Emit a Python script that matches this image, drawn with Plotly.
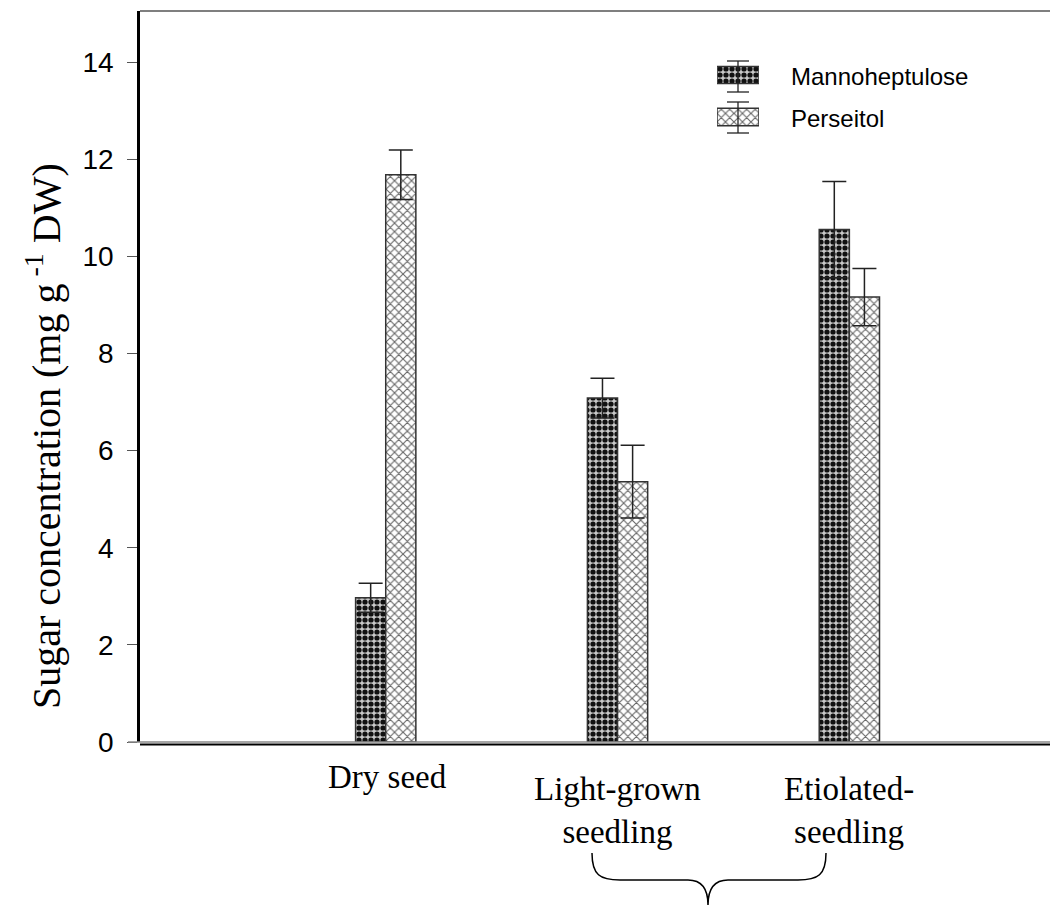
import plotly.graph_objects as go

# ---- data ----
categories = ["Dry seed", "Light-grown seedling", "Etiolated seedling"]
category_labels = ["Dry seed", "Light-grown<br>seedling", "Etiolated-<br>seedling"]
series_names = ["Mannoheptulose", "Perseitol"]
manno_values = [2.97, 7.08, 10.55]
manno_errors = [0.30, 0.41, 0.99]
perse_values = [11.68, 5.36, 9.16]
perse_errors = [0.51, 0.75, 0.59]
y_ticks = [0, 2, 4, 6, 8, 10, 12, 14]

# ---- layout geometry (screen pixels; page body has an 8px margin) ----
OFF = 8
W, H = 1058 - OFF, 910 - OFF
L, R, T, B = 140 - OFF, 1058 - OFF, 11 - OFF, 742 - OFF


def px_x(p):
    return (p - OFF - L) / (R - L)


def px_y(p):
    return (B - (p - OFF)) / (B - T)


manno_pattern = dict(shape=".", bgcolor="#c8c8c8", fgcolor="#111111",
                     size=6, solidity=0.6, fillmode="replace")
perse_pattern = dict(shape="x", bgcolor="#ffffff", fgcolor="#666666",
                     size=6, solidity=0.33, fillmode="replace")
bar_line = dict(color="#333333", width=1.5)

fig = go.Figure()
fig.add_trace(go.Bar(
    x=categories, y=manno_values, name=series_names[0],
    marker=dict(color="#c8c8c8", pattern=manno_pattern, line=bar_line),
    error_y=dict(type="data", array=manno_errors, visible=True,
                 color="#222222", thickness=1.5, width=12),
    showlegend=False,
))
fig.add_trace(go.Bar(
    x=categories, y=perse_values, name=series_names[1],
    marker=dict(color="#ffffff", pattern=perse_pattern, line=bar_line),
    error_y=dict(type="data", array=perse_errors, visible=True,
                 color="#222222", thickness=1.5, width=12),
    showlegend=False,
))

# ---- custom legend (overlay axes) ----
fig.add_trace(go.Bar(
    y=[series_names[0]], x=[1], orientation="h", xaxis="x2", yaxis="y2",
    marker=dict(color="#c8c8c8", pattern=manno_pattern, line=bar_line),
    width=0.4, showlegend=False, hoverinfo="skip",
))
fig.add_trace(go.Bar(
    y=[series_names[1]], x=[1], orientation="h", xaxis="x2", yaxis="y2",
    marker=dict(color="#ffffff", pattern=perse_pattern, line=bar_line),
    width=0.42, showlegend=False, hoverinfo="skip",
))

shapes = []
# legend error glyphs
for top, bot in [(61, 92), (102, 133)]:
    cx = 738
    shapes.append(dict(type="line", xref="paper", yref="paper",
                       x0=px_x(cx), x1=px_x(cx), y0=px_y(top), y1=px_y(bot),
                       line=dict(color="#222", width=1.3)))
    for yy in (top, bot):
        shapes.append(dict(type="line", xref="paper", yref="paper",
                           x0=px_x(727), x1=px_x(749), y0=px_y(yy), y1=px_y(yy),
                           line=dict(color="#222", width=1.3)))

# frame lines
shapes.append(dict(type="line", xref="paper", yref="paper", x0=0, x1=1, y0=1, y1=1,
                   line=dict(color="#555", width=1.5)))
shapes.append(dict(type="line", xref="paper", yref="paper", x0=px_x(128), x1=1,
                   y0=0, y1=0, line=dict(color="#888", width=1.5)))
shapes.append(dict(type="line", xref="paper", yref="paper", x0=0, x1=1,
                   y0=px_y(744.5), y1=px_y(744.5), line=dict(color="#000", width=2)))

# brace
pts = [(592, 853), (592, 875), (600, 880), (620, 880), (688, 880),
       (702, 880), (708, 890), (708, 905), (708, 890), (714, 880), (728, 880),
       (798, 880), (818, 880), (826, 875), (826, 853)]
P_ = [(px_x(a), px_y(b)) for a, b in pts]


def f(p):
    return f"{p[0]:.5f},{p[1]:.5f}"


path = (f"M {f(P_[0])} C {f(P_[1])} {f(P_[2])} {f(P_[3])} L {f(P_[4])} "
        f"C {f(P_[5])} {f(P_[6])} {f(P_[7])} C {f(P_[8])} {f(P_[9])} {f(P_[10])} "
        f"L {f(P_[11])} C {f(P_[12])} {f(P_[13])} {f(P_[14])}")
shapes.append(dict(type="path", xref="paper", yref="paper", path=path,
                   line=dict(color="#000", width=1.5)))

annotations = []
serif = "Liberation Serif, Times New Roman, serif"
sans = "Liberation Sans, Arial, sans-serif"
# category labels
label_y = [777, 810, 810]
label_dx = [2, 0, 0]
for cat, lab, yy, dx in zip(categories, category_labels, label_y, label_dx):
    annotations.append(dict(x=cat, xref="x", y=px_y(yy), yref="paper", text=lab,
                            showarrow=False, xanchor="center", yanchor="middle",
                            xshift=dx, font=dict(family=serif, size=33, color="#000")))
# legend texts
for name, yy in zip(series_names, [76, 118]):
    annotations.append(dict(x=px_x(789), xref="paper", y=px_y(yy), yref="paper",
                            text=name, showarrow=False, xanchor="left", yanchor="middle",
                            font=dict(family=sans, size=24, color="#000")))
# y-axis title
annotations.append(dict(x=px_x(44), xref="paper", y=px_y(436), yref="paper",
                        text="Sugar concentration (mg g<sup> -1</sup> DW)",
                        textangle=-90, showarrow=False, xanchor="center", yanchor="middle",
                        font=dict(family=serif, size=40, color="#000")))

fig.update_layout(
    width=W, height=H,
    margin=dict(l=L, r=W - R, t=T, b=H - B, pad=0),
    paper_bgcolor="white", plot_bgcolor="white",
    barmode="group", bargap=0.74, bargroupgap=0,
    showlegend=False,
    xaxis=dict(type="category", categoryorder="array", categoryarray=categories,
               range=[-1.06, 2.9], showticklabels=False, ticks="",
               showline=False, showgrid=False, zeroline=False),
    yaxis=dict(range=[0, 15.05], tickvals=y_ticks, ticks="outside", ticklen=10,
               tickcolor="#555", tickwidth=1.2, ticklabelstandoff=8,
               tickfont=dict(family=sans, size=28, color="#000"),
               showline=True, linecolor="#000", linewidth=2.5,
               showgrid=False, zeroline=False),
    xaxis2=dict(domain=[px_x(717), px_x(759)], range=[0, 1], anchor="y2",
                visible=False, fixedrange=True),
    yaxis2=dict(domain=[px_y(138), px_y(54)], anchor="x2", type="category",
                categoryorder="array", categoryarray=[series_names[1], series_names[0]],
                range=[-0.5, 1.5], visible=False, fixedrange=True),
    shapes=shapes,
    annotations=annotations,
)

fig.write_html("out.html")
